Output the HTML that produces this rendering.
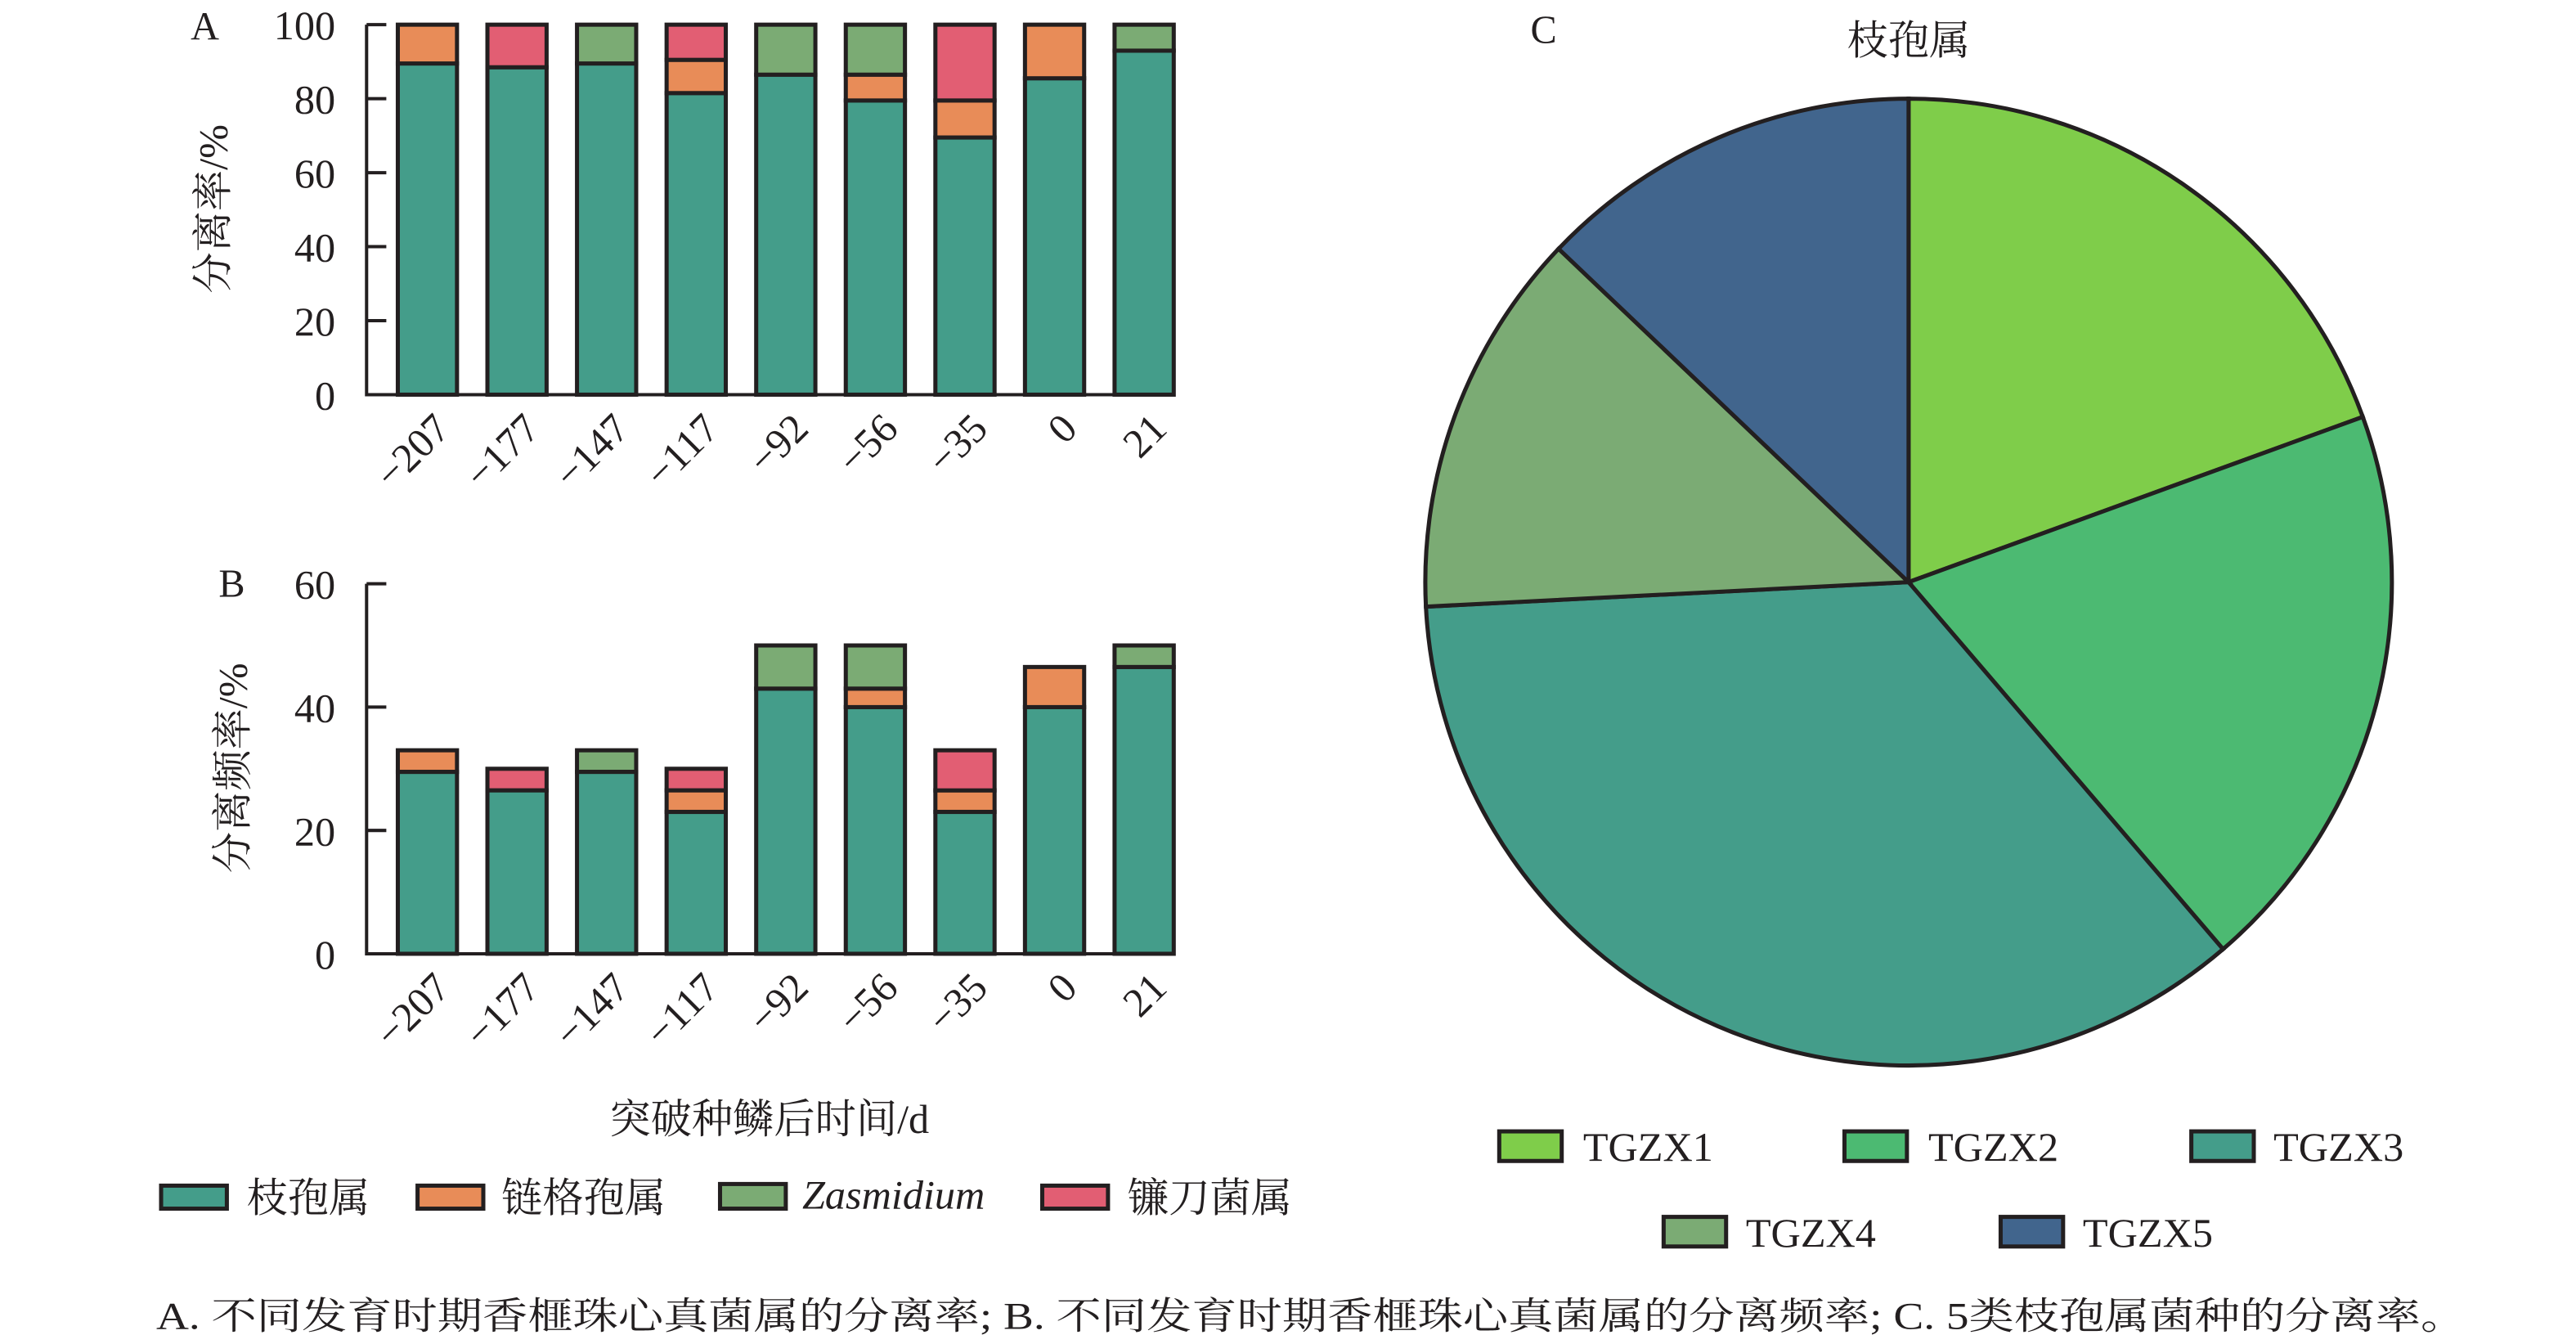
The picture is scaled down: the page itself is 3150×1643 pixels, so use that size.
<!DOCTYPE html>
<html><head><meta charset="utf-8"><style>
html,body{margin:0;padding:0;background:#fff;}
svg{display:block;}
text{font-family:"Liberation Serif","Noto Serif CJK SC",serif;fill:#231f20;}
</style></head><body>
<svg width="3150" height="1643" viewBox="0 0 1567 817.3" preserveAspectRatio="none" xmlns="http://www.w3.org/2000/svg">
<g stroke="#231f20" stroke-width="2.5">
<g fill="#449d8a">
<rect x="242" y="38.6" width="36" height="201.4"/>
<rect x="296.5" y="40.9" width="36" height="199.1"/>
<rect x="351" y="38.6" width="36" height="201.4"/>
<rect x="405.5" y="56.6" width="36" height="183.4"/>
<rect x="460" y="45.4" width="36" height="194.6"/>
<rect x="514.5" y="61.1" width="36" height="178.9"/>
<rect x="569" y="83.6" width="36" height="156.4"/>
<rect x="623.5" y="47.6" width="36" height="192.4"/>
<rect x="678" y="30.8" width="36" height="209.2"/>
</g>
<g fill="#e88c58">
<rect x="242" y="15" width="36" height="23.6"/>
<rect x="405.5" y="36.4" width="36" height="20.2"/>
<rect x="514.5" y="45.4" width="36" height="15.7"/>
<rect x="569" y="61.1" width="36" height="22.5"/>
<rect x="623.5" y="15" width="36" height="32.6"/>
</g>
<g fill="#e25e73">
<rect x="296.5" y="15" width="36" height="25.9"/>
<rect x="405.5" y="15" width="36" height="21.4"/>
<rect x="569" y="15" width="36" height="46.1"/>
</g>
<g fill="#7bab74">
<rect x="351" y="15" width="36" height="23.6"/>
<rect x="460" y="15" width="36" height="30.4"/>
<rect x="514.5" y="15" width="36" height="30.4"/>
<rect x="678" y="15" width="36" height="15.8"/>
</g>
<path d="M223 15 V240 H714 M223 15 h12 M223 60 h12 M223 105 h12 M223 150 h12 M223 195 h12" fill="none" stroke-width="2"/>
<g fill="#449d8a">
<rect x="242" y="469.4" width="36" height="110.6"/>
<rect x="296.5" y="480.6" width="36" height="99.4"/>
<rect x="351" y="469.4" width="36" height="110.6"/>
<rect x="405.5" y="493.75" width="36" height="86.25"/>
<rect x="460" y="418.75" width="36" height="161.25"/>
<rect x="514.5" y="430" width="36" height="150"/>
<rect x="569" y="493.75" width="36" height="86.25"/>
<rect x="623.5" y="430" width="36" height="150"/>
<rect x="678" y="405.6" width="36" height="174.4"/>
</g>
<g fill="#e88c58">
<rect x="242" y="456.25" width="36" height="13.1"/>
<rect x="405.5" y="480.6" width="36" height="13.1"/>
<rect x="514.5" y="418.75" width="36" height="11.25"/>
<rect x="569" y="480.6" width="36" height="13.1"/>
<rect x="623.5" y="405.6" width="36" height="24.4"/>
</g>
<g fill="#e25e73">
<rect x="296.5" y="467.5" width="36" height="13.1"/>
<rect x="405.5" y="467.5" width="36" height="13.1"/>
<rect x="569" y="456.25" width="36" height="24.4"/>
</g>
<g fill="#7bab74">
<rect x="351" y="456.25" width="36" height="13.1"/>
<rect x="460" y="392.5" width="36" height="26.25"/>
<rect x="514.5" y="392.5" width="36" height="26.25"/>
<rect x="678" y="392.5" width="36" height="13.1"/>
</g>
<path d="M223 355 V580 H714 M223 355 h12 M223 430 h12 M223 505 h12" fill="none" stroke-width="2"/>
<path d="M1161 354 L1161 60 A294 294 0 0 1 1437.3 253.5 Z" fill="#7fcd4a"/>
<path d="M1161 354 L1437.3 253.5 A294 294 0 0 1 1352.3 577.2 Z" fill="#4cba72"/>
<path d="M1161 354 L1352.3 577.2 A294 294 0 0 1 867.4 368.9 Z" fill="#449d8a"/>
<path d="M1161 354 L867.4 368.9 A294 294 0 0 1 948.1 151.3 Z" fill="#7bab74"/>
<path d="M1161 354 L948.1 151.3 A294 294 0 0 1 1161 60 Z" fill="#41658d"/>
<rect x="98" y="721" width="40" height="14" fill="#449d8a"/>
<rect x="254" y="721" width="40" height="14" fill="#e88c58"/>
<rect x="438" y="720" width="40" height="15" fill="#7bab74"/>
<rect x="634" y="721" width="40" height="14" fill="#e25e73"/>
<rect x="912" y="688" width="38" height="18" fill="#7fcd4a"/>
<rect x="1122" y="688" width="38" height="18" fill="#4cba72"/>
<rect x="1333" y="688" width="38" height="18" fill="#449d8a"/>
<rect x="1012" y="740" width="38" height="18" fill="#7bab74"/>
<rect x="1217" y="740" width="38" height="18" fill="#41658d"/>
</g>
<g font-size="25" text-anchor="end">
<text x="204" y="24">100</text><text x="204" y="69">80</text><text x="204" y="114">60</text>
<text x="204" y="159">40</text><text x="204" y="204">20</text><text x="204" y="249">0</text>
<text x="204" y="364">60</text><text x="204" y="439">40</text><text x="204" y="514">20</text><text x="204" y="589">0</text>
</g>
<text x="116" y="24" font-size="24">A</text>
<text x="133" y="363" font-size="24">B</text>
<text x="931" y="26" font-size="24">C</text>
<text transform="translate(138,127) rotate(-90)" font-size="25" text-anchor="middle">分离率/%</text>
<text transform="translate(150,467) rotate(-90)" font-size="25" text-anchor="middle">分离频率/%</text>
<g font-size="25" text-anchor="end">
<g>
<text transform="translate(275,262) rotate(-45)">−207</text>
<text transform="translate(329.5,262) rotate(-45)">−177</text>
<text transform="translate(384,262) rotate(-45)">−147</text>
<text transform="translate(438.5,262) rotate(-45)">−117</text>
<text transform="translate(493,262) rotate(-45)">−92</text>
<text transform="translate(547.5,262) rotate(-45)">−56</text>
<text transform="translate(602,262) rotate(-45)">−35</text>
<text transform="translate(656.5,262) rotate(-45)">0</text>
<text transform="translate(711,262) rotate(-45)">21</text>
</g>
<g transform="translate(0,340)">
<text transform="translate(275,262) rotate(-45)">−207</text>
<text transform="translate(329.5,262) rotate(-45)">−177</text>
<text transform="translate(384,262) rotate(-45)">−147</text>
<text transform="translate(438.5,262) rotate(-45)">−117</text>
<text transform="translate(493,262) rotate(-45)">−92</text>
<text transform="translate(547.5,262) rotate(-45)">−56</text>
<text transform="translate(602,262) rotate(-45)">−35</text>
<text transform="translate(656.5,262) rotate(-45)">0</text>
<text transform="translate(711,262) rotate(-45)">21</text>
</g>
</g>
<text x="468" y="689" font-size="25" text-anchor="middle">突破种鳞后时间/d</text>
<g font-size="25">
<text x="150" y="737">枝孢属</text>
<text x="305" y="737">链格孢属</text>
<text x="488" y="735" font-style="italic">Zasmidium</text>
<text x="686" y="737">镰刀菌属</text>
<text x="1161" y="33" text-anchor="middle">枝孢属</text>
<text x="963" y="706">TGZX1</text>
<text x="1173" y="706">TGZX2</text>
<text x="1383" y="706">TGZX3</text>
<text x="1062" y="758">TGZX4</text>
<text x="1267" y="758">TGZX5</text>
</g>
<text x="95" y="808" font-size="23" textLength="1405" lengthAdjust="spacingAndGlyphs">A. 不同发育时期香榧珠心真菌属的分离率; B. 不同发育时期香榧珠心真菌属的分离频率; C. 5类枝孢属菌种的分离率。</text>
</svg>
</body></html>
